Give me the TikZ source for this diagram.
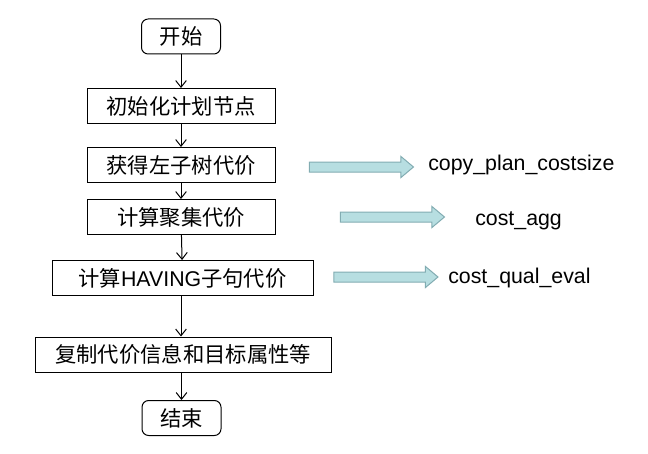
\documentclass[tikz,border=0pt]{standalone}
\usepackage{fontspec}
\setmainfont{Liberation Sans}
\newfontfamily\cjk{Noto Sans CJK SC}
\usetikzlibrary{shapes.arrows,arrows.meta}
\definecolor{arrowfill}{RGB}{183,222,225}
\definecolor{arrowline}{RGB}{130,172,178}

\tikzset{
  procbox/.style={draw, line width=0.75pt, minimum height=26.25pt, inner sep=0pt,
    font=\fontsize{16}{18}\selectfont\cjk},
  termbox/.style={procbox, rounded corners=5pt, minimum width=59.25pt},
  flow/.style={line width=0.75pt, -{Straight Barb[length=5pt,width=8pt]}},
  fatarrow/.style={single arrow, draw=arrowline, fill=arrowfill, line width=0.75pt,
    inner xsep=0pt, inner ysep=3.375pt, minimum height=78pt, minimum width=15pt,
    single arrow head extend=4.125pt, single arrow tip angle=80},
  funcname/.style={anchor=west, inner sep=0pt, font=\fontsize{16}{18}\selectfont}
}

\begin{document}
\begin{tikzpicture}[x=0.75pt,y=-0.75pt]
    \useasboundingbox (0,0) rectangle (648,453);

    % Flow
    \node[termbox] (start) at (181,36.5) {开始};
    \node[procbox, minimum width=141pt] (init) at (181,106) {初始化计划节点};
    \node[procbox, minimum width=141pt] (subtree) at (181,165) {获得左子树代价};
    \node[procbox, minimum width=141pt] (agg) at (181,217) {计算聚集代价};
    \node[procbox, minimum width=195.75pt] (having) at (182.5,278) {计算{\rmfamily HAVING}子句代价};
    \node[procbox, minimum width=222pt] (copy) at (183,354.5) {复制代价信息和目标属性等};
    \node[termbox] (stop) at (181.5,418) {结束};

    \draw[flow] (start) -- (init);
    \draw[flow] (init) -- (subtree);
    \draw[flow] (subtree) -- (agg);
    \draw[flow] (agg) -- (having);
    \draw[flow] (having.south -| agg) -- (copy.north -| agg);
    \draw[flow] (copy.south -| stop) -- (stop);

    % Functions
    \node[fatarrow] (toplan) at (358.5,167) {};
    \node[fatarrow] (toagg) at (389.5,217) {};
    \node[fatarrow] (toqual) at (383,277) {};
    \node[funcname] (plancost) at (428,165) {copy\_plan\_costsize};
    \node[funcname] (costagg) at (475,220.5) {cost\_agg};
    \node[funcname] (costqual) at (448,277.5) {cost\_qual\_eval};
\end{tikzpicture}
\end{document}
